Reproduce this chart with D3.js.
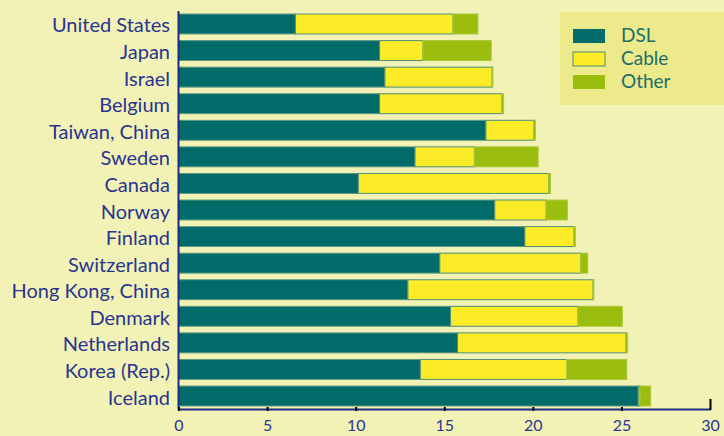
<!DOCTYPE html>
<html>
<head>
<meta charset="utf-8">
<script src="https://cdn.jsdelivr.net/npm/d3@7"></script>
<style>
  body { margin: 0; background: #f3f2b6; }
  svg { display: block; }
</style>
</head>
<body>
<svg id="chart" width="724" height="436"></svg>
<script>
// broadband subscribers per 100 inhabitants
var countries = ['United States', 'Japan', 'Israel', 'Belgium', 'Taiwan, China', 'Sweden', 'Canada',
  'Norway', 'Finland', 'Switzerland', 'Hong Kong, China', 'Denmark', 'Netherlands', 'Korea (Rep.)', 'Iceland'];
var dsl   = [6.6, 11.35, 11.65, 11.35, 17.35, 13.35, 10.15, 17.85, 19.55, 14.75, 12.95, 15.35, 15.75, 13.65, 25.95];
var cable = [8.9, 2.45, 6.05, 6.9, 2.7, 3.35, 10.75, 2.9, 2.75, 7.95, 10.45, 7.2, 9.5, 8.25, 0.1];
var other = [1.4, 3.85, 0.05, 0.1, 0.1, 3.6, 0.1, 1.2, 0.1, 0.4, 0.05, 2.5, 0.1, 3.4, 0.6];
var seriesNames = ['DSL', 'Cable', 'Other'];
var xTicks = [0, 5, 10, 15, 20, 25, 30];

var colors = {DSL: '#006b68', Cable: '#fcec27', Other: '#9bbe0e'};
var strokes = {DSL: '#5f9a82', Cable: '#4f8d78', Other: '#a9c83a'};
var font = 'Lato, "Liberation Sans", sans-serif';

var svg = d3.select('#chart');
svg.append('rect').attr('width', 724).attr('height', 436).attr('fill', '#f3f2b6');

var x = d3.scaleLinear().domain([0, 30]).range([178.5, 710]);
var y = d3.scaleBand().domain(countries).range([10.7, 409.3])
  .paddingInner(0.25).paddingOuter(0.125);

var rows = countries.map(function (c, i) {
  return {country: c, DSL: dsl[i], Cable: cable[i], Other: other[i]};
});
var stacked = d3.stack().keys(seriesNames)(rows);

// bars
svg.append('g').selectAll('g').data(stacked).enter()
  .append('g')
  .attr('fill', function (d) { return colors[d.key]; })
  .attr('stroke', function (d) { return strokes[d.key]; })
  .attr('stroke-width', 1)
  .selectAll('rect').data(function (d) { return d; }).enter()
  .append('rect')
  .attr('x', function (d) { return x(d[0]); })
  .attr('y', function (d) { return y(d.data.country); })
  .attr('width', function (d) { return Math.max(0, x(d[1]) - x(d[0])); })
  .attr('height', y.bandwidth());

// country labels
svg.append('g').selectAll('text').data(countries).enter()
  .append('text')
  .attr('x', 170)
  .attr('y', function (d) { return y(d) + y.bandwidth() / 2 + 8.5; })
  .attr('text-anchor', 'end')
  .attr('font-family', font)
  .attr('font-size', 20)
  .attr('fill', '#283590')
  .text(function (d) { return d; });

// axes
var axisY = 409;
svg.append('line')
  .attr('x1', x(0)).attr('x2', x(0)).attr('y1', 11).attr('y2', axisY + 1)
  .attr('stroke', '#1f2a80').attr('stroke-width', 2);

var xAxis = svg.append('g')
  .attr('transform', 'translate(0,' + axisY + ')')
  .call(d3.axisBottom(x).tickValues(xTicks).tickSize(2).tickSizeOuter(0));
xAxis.select('.domain').attr('stroke', '#1f2a80').attr('stroke-width', 2);
xAxis.selectAll('.tick line').attr('stroke', '#000').attr('stroke-width', 2).attr('y1', -2);
xAxis.selectAll('.tick').filter(function (d) { return d === 30; })
  .select('line').attr('y1', -10).attr('y2', 1);
xAxis.selectAll('.tick text')
  .attr('y', 22).attr('dy', null)
  .attr('font-family', font).attr('font-size', 16).attr('fill', '#283590');

// legend
var legend = svg.append('g');
legend.append('rect')
  .attr('x', 560).attr('y', 12).attr('width', 164).attr('height', 93)
  .attr('fill', '#ecea8a');
var ly = d3.scalePoint().domain(seriesNames).range([36, 82]);
var items = legend.selectAll('g').data(seriesNames).enter().append('g');
items.append('rect')
  .attr('x', 573).attr('y', function (d) { return ly(d) - 7; })
  .attr('width', 32).attr('height', 14)
  .attr('fill', function (d) { return colors[d]; })
  .attr('stroke', function (d) { return d === 'Cable' ? '#4f8d78' : 'none'; });
items.append('text')
  .attr('x', 621).attr('y', function (d) { return ly(d) + 5.5; })
  .attr('font-family', font).attr('font-size', 19)
  .attr('fill', '#1b6e6c')
  .text(function (d) { return d; });
</script>
</body>
</html>
